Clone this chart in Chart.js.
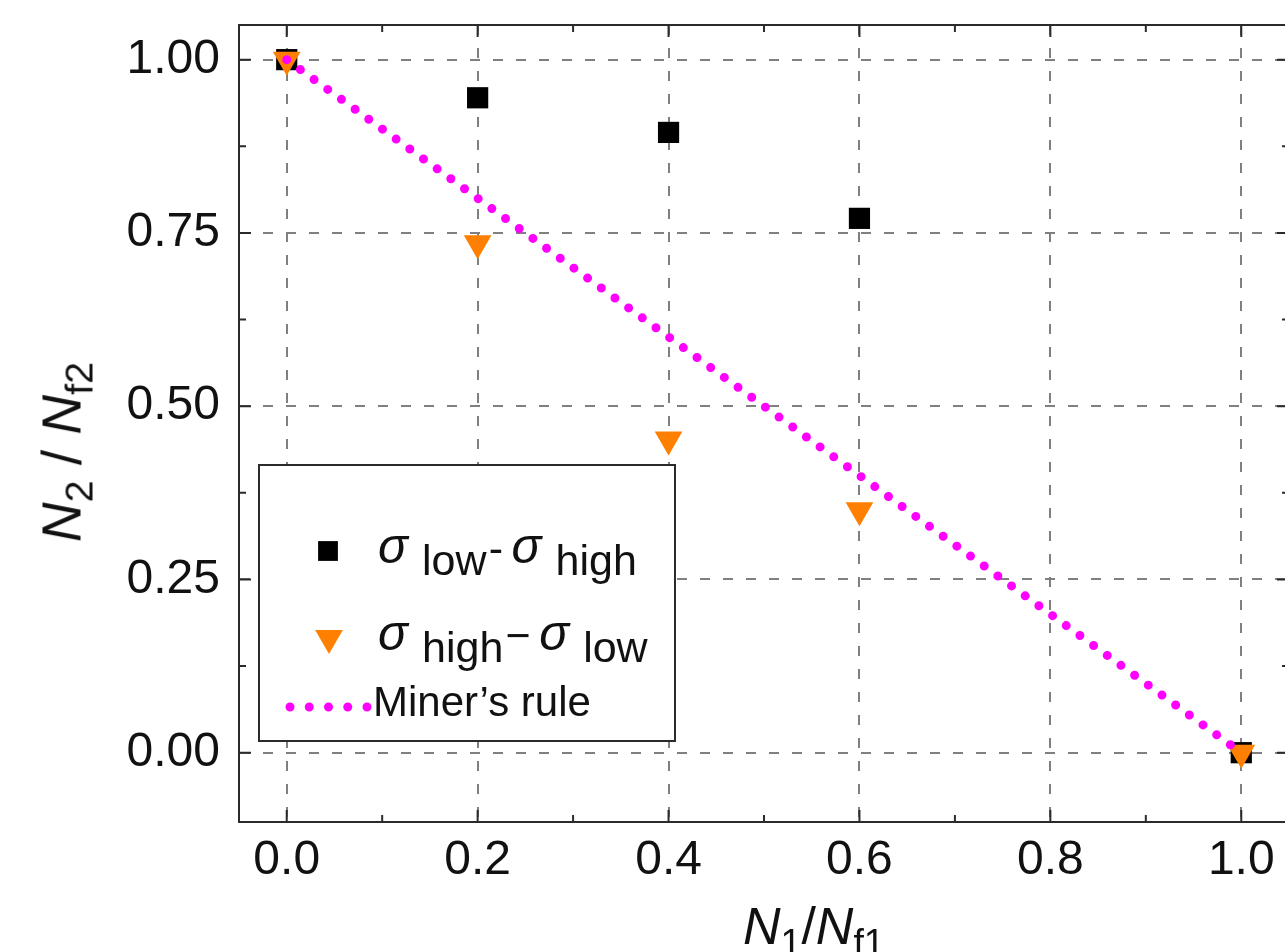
<!DOCTYPE html>
<html lang="en">
<head>
<meta charset="UTF-8">
<title>N2/Nf2 vs N1/Nf1</title>
<script src="https://cdn.jsdelivr.net/npm/chart.js"></script>
<style>
    body {
        margin: 0;
        background: #fff;
        overflow: hidden;
        font-family: 'Liberation Sans', Arial, sans-serif;
    }

    .wrap {
        position: relative;
        width: 1300px;
        height: 952px;
    }

    canvas { display: block; }

    .txt {
        position: absolute;
        white-space: nowrap;
        line-height: 1;
        color: #111;
    }

    .txt sub {
        font-size: 0.72em;
        vertical-align: baseline;
        position: relative;
        top: 0.3em;
    }

    .leg { font-size: 43px; }
    .leg sub { font-size: 1em; top: 0.28em; margin-left: 0.33em; }
    .sig { font-style: italic; font-size: 1.15em; }
    .dash { margin: 0 0.2em 0 0.05em; }

    #ytitle {
        font-size: 55px;
        left: 62px;
        top: 452px;
        transform: translate(-50%, -50%) rotate(-90deg);
    }

    #xtitle {
        font-size: 52px;
        left: 743px;
        top: 900px;
    }
</style>
</head>
<body>
<div class="wrap">
    <canvas id="fatigueChart" width="1300" height="952"></canvas>

    <div class="txt" id="ytitle"><i>N</i><sub>2</sub> / <i>N</i><sub>f2</sub></div>
    <div class="txt" id="xtitle"><i>N</i><sub>1</sub>/<i>N</i><sub>f1</sub></div>

    <div class="txt leg" style="left:378px; top:521px;"><span class="sig">σ</span><sub>low</sub><span class="dash">-</span><span class="sig">σ</span><sub>high</sub></div>
    <div class="txt leg" style="left:378px; top:608px;"><span class="sig">σ</span><sub>high</sub><span class="dash">−</span><span class="sig">σ</span><sub>low</sub></div>
    <div class="txt leg" style="left:373px; top:681px; font-size:42px;">Miner’s rule</div>
</div>

<script>
    // data
    const xTicks = [0.0, 0.2, 0.4, 0.6, 0.8, 1.0];
    const xMinor = [0.1, 0.3, 0.5, 0.7, 0.9];
    const yTicks = [0.00, 0.25, 0.50, 0.75, 1.00];
    const yMinor = [0.125, 0.375, 0.625, 0.875];

    const lowHighX = [0.0, 0.2, 0.4, 0.6, 1.0];
    const lowHighY = [1.0, 0.945, 0.895, 0.771, 0.0];

    const highLowX = [0.0, 0.2, 0.4, 0.6, 1.0];
    const highLowY = [1.0, 0.735, 0.452, 0.350, 0.0];

    const minerX = [0.0, 1.0];
    const minerY = [1.0, 0.0];

    const toPoints = (xs, ys) => xs.map((x, i) => ({ x: x, y: ys[i] }));

    const FONT = "'Liberation Sans', Arial, sans-serif";
    const GRID = '#808080';
    const AXIS = '#2b2b2b';
    const MAGENTA = '#ff00ff';
    const ORANGE = '#ff8000';

    // frame on top/right + inward tick marks
    const framePlugin = {
        id: 'frame',
        beforeDatasetsDraw(chart) {
            const { ctx, chartArea: a, scales } = chart;
            ctx.save();
            ctx.strokeStyle = AXIS;
            ctx.lineWidth = 2;
            ctx.beginPath();
            ctx.moveTo(a.left, a.top);
            ctx.lineTo(a.right, a.top);
            ctx.lineTo(a.right, a.bottom);
            ctx.stroke();

            const tick = (vals, len) => {
                vals.forEach(v => {
                    const px = scales.x.getPixelForValue(v);
                    ctx.moveTo(px, a.bottom); ctx.lineTo(px, a.bottom - len);
                    ctx.moveTo(px, a.top); ctx.lineTo(px, a.top + len);
                });
            };
            const tickY = (vals, len) => {
                vals.forEach(v => {
                    const py = scales.y.getPixelForValue(v);
                    ctx.moveTo(a.left, py); ctx.lineTo(a.left + len, py);
                    ctx.moveTo(a.right, py); ctx.lineTo(a.right - len, py);
                });
            };
            ctx.beginPath();
            tick(xTicks, 12);
            tick(xMinor, 7);
            tickY(yTicks, 12);
            tickY(yMinor, 7);
            ctx.stroke();
            ctx.restore();
        }
    };

    // boxed legend, labels are html on top
    const legendPlugin = {
        id: 'boxLegend',
        afterDatasetsDraw(chart) {
            const ctx = chart.ctx;
            ctx.save();
            ctx.fillStyle = '#fff';
            ctx.fillRect(259, 465, 416, 276);
            ctx.strokeStyle = AXIS;
            ctx.lineWidth = 2;
            ctx.strokeRect(259, 465, 416, 276);

            ctx.fillStyle = '#000';
            Chart.helpers.drawPoint(ctx, { pointStyle: 'rect', radius: 14, rotation: 0, borderWidth: 0 }, 328, 551);
            ctx.fillStyle = ORANGE;
            Chart.helpers.drawPoint(ctx, { pointStyle: 'triangle', radius: 16, rotation: 180, borderWidth: 0 }, 329, 638);

            ctx.strokeStyle = MAGENTA;
            ctx.lineWidth = 9;
            ctx.lineCap = 'round';
            ctx.setLineDash([0, 19.25]);
            ctx.beginPath();
            ctx.moveTo(290, 707);
            ctx.lineTo(368, 707);
            ctx.stroke();
            ctx.restore();
        }
    };

    const config = {
        type: 'scatter',
        data: {
            datasets: [
                {
                    label: 'Miner’s rule',
                    data: toPoints(minerX, minerY),
                    showLine: true,
                    borderColor: MAGENTA,
                    borderWidth: 9,
                    borderDash: [0, 16.9],
                    borderCapStyle: 'round',
                    pointRadius: 0,
                    order: 0
                },
                {
                    label: 'σhigh−σlow',
                    data: toPoints(highLowX, highLowY),
                    pointStyle: 'triangle',
                    rotation: 180,
                    pointRadius: 16,
                    pointBackgroundColor: ORANGE,
                    pointBorderWidth: 0,
                    order: 1
                },
                {
                    label: 'σlow-σhigh',
                    data: toPoints(lowHighX, lowHighY),
                    pointStyle: 'rect',
                    pointRadius: 15,
                    pointBackgroundColor: '#000',
                    pointBorderWidth: 0,
                    order: 2
                }
            ]
        },
        options: {
            responsive: false,
            animation: false,
            layout: {
                autoPadding: false,
                padding: { top: 25, right: 11, left: 0, bottom: 0 }
            },
            plugins: {
                legend: { display: false },
                tooltip: { enabled: false }
            },
            scales: {
                x: {
                    type: 'linear',
                    min: -0.05,
                    max: 1.05,
                    afterBuildTicks: s => { s.ticks = xTicks.map(v => ({ value: v })); },
                    afterFit: s => {
                        s.height = 130;
                        s.paddingLeft = 0;
                        s.paddingRight = 0;
                    },
                    grid: { color: GRID, lineWidth: 2, drawTicks: false },
                    border: { display: true, color: AXIS, width: 2, dash: [10, 13] },
                    ticks: {
                        color: '#111',
                        font: { family: FONT, size: 48 },
                        padding: 10,
                        maxRotation: 0,
                        callback: v => v.toFixed(1)
                    }
                },
                y: {
                    type: 'linear',
                    min: -0.1,
                    max: 1.05,
                    afterBuildTicks: s => { s.ticks = yTicks.map(v => ({ value: v })); },
                    afterFit: s => {
                        s.width = 239;
                        s.paddingTop = 0;
                        s.paddingBottom = 0;
                    },
                    grid: { color: GRID, lineWidth: 2, drawTicks: false },
                    border: { display: true, color: AXIS, width: 2, dash: [10, 13] },
                    ticks: {
                        color: '#111',
                        font: { family: FONT, size: 48 },
                        padding: 19,
                        callback: v => v.toFixed(2)
                    }
                }
            }
        },
        plugins: [framePlugin, legendPlugin]
    };

    const ctx = document.getElementById('fatigueChart').getContext('2d');
    const fatigueChart = new Chart(ctx, config);
</script>
</body>
</html>
